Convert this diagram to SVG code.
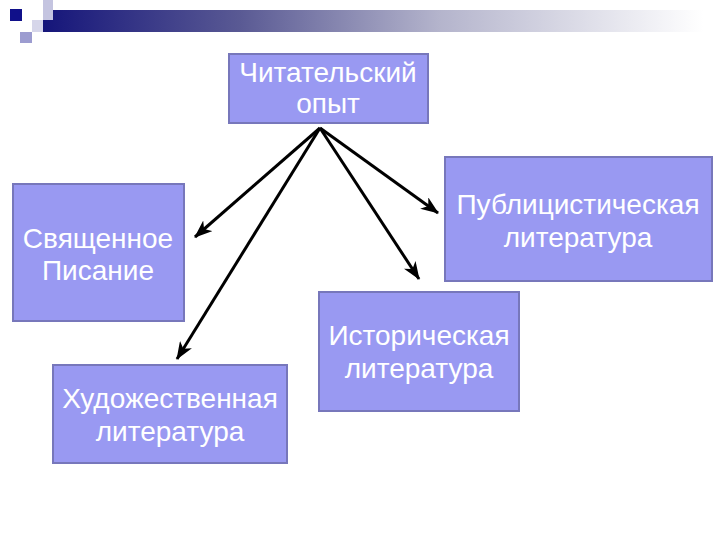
<svg xmlns="http://www.w3.org/2000/svg" width="720" height="540" viewBox="0 0 720 540">
<defs>
<linearGradient id="bar" x1="0" y1="0" x2="1" y2="0">
<stop offset="0" stop-color="#15157a"/>
<stop offset="0.3" stop-color="#5a5a94"/>
<stop offset="0.6" stop-color="#b4b4cc"/>
<stop offset="1" stop-color="#ffffff"/>
</linearGradient>
<marker id="ah" viewBox="0 0 18 14" refX="17" refY="7" markerWidth="18" markerHeight="14" markerUnits="userSpaceOnUse" orient="auto">
<path d="M0,0 L18,7 L0,14 L5,7 Z" fill="#000"/>
</marker>
<style>
.box{fill:#9999f2;stroke:#7777bb;stroke-width:2}
.t{font-family:"Liberation Sans",Arial,sans-serif;font-size:28px;fill:#ffffff;text-anchor:middle}
.c{stroke:#000;stroke-width:3;fill:none;marker-end:url(#ah)}
</style>
</defs>
<rect width="720" height="540" fill="#ffffff"/>
<g id="decor">
<rect x="43" y="10" width="660" height="22" fill="url(#bar)"/>
<rect x="43" y="0" width="10" height="20" fill="#c4c4e0"/>
<rect x="32" y="20" width="11" height="12" fill="#d6d6ea"/>
<rect x="20" y="32" width="12" height="11" fill="#9c9cd0"/>
<rect x="10" y="9" width="12" height="12" fill="#10108a"/>
</g>
<g id="connectors">
<line class="c" x1="320" y1="128" x2="195" y2="237"/>
<line class="c" x1="320" y1="128" x2="177" y2="359"/>
<line class="c" x1="320" y1="128" x2="438" y2="213"/>
<line class="c" x1="320" y1="128" x2="419" y2="279"/>
</g>
<g id="n-reader">
<rect class="box" x="229" y="54" width="199" height="69"/>
<text class="t" x="328" y="82">Читательский</text>
<text class="t" x="328" y="113">опыт</text>
</g>
<g id="n-scripture">
<rect class="box" x="13" y="184" width="171" height="137"/>
<text class="t" x="98" y="248">Священное</text>
<text class="t" x="98" y="280">Писание</text>
</g>
<g id="n-publicist">
<rect class="box" x="445" y="157" width="267" height="124"/>
<text class="t" x="578" y="214">Публицистическая</text>
<text class="t" x="578" y="247">литература</text>
</g>
<g id="n-historical">
<rect class="box" x="319" y="292" width="200" height="119"/>
<text class="t" x="419" y="345">Историческая</text>
<text class="t" x="419" y="378">литература</text>
</g>
<g id="n-fiction">
<rect class="box" x="53" y="365" width="234" height="98"/>
<text class="t" x="170" y="408">Художественная</text>
<text class="t" x="170" y="441">литература</text>
</g>
</svg>
